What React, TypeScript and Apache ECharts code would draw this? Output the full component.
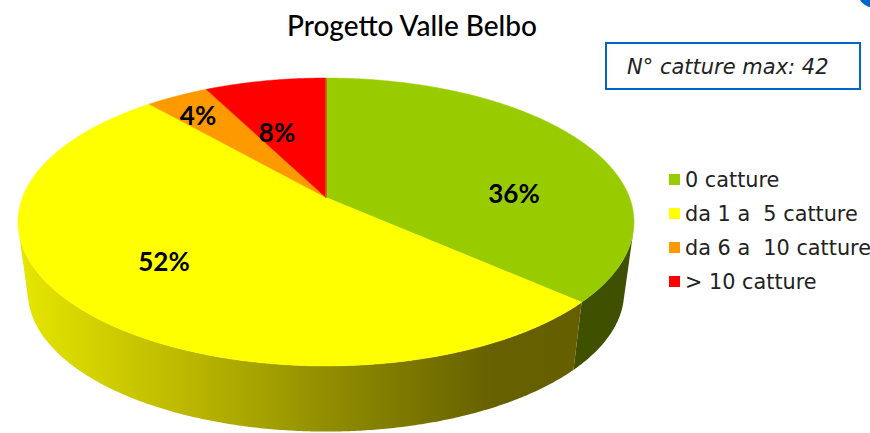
import React, { useEffect, useRef } from "react";
import * as echarts from "echarts";

const titleText = "Progetto Valle Belbo";
const noteText = "N° catture max: 42";
const categories = ["0 catture", "da 1 a  5 catture", "da 6 a  10 catture", "> 10 catture"];
const shares = [36, 52, 4, 8];
const colors = ["#99CC00", "#FFFF00", "#FF9900", "#FF0000"];
const labelAnchors = [[514, 193], [164, 261], [198, 115], [277, 132]];

// perspective projection of the pie's disc
const CX = 326, CY = 197.5, RX = 303.5, RY = 139.8, K = 0.17, WARP = (2.1 * Math.PI) / 180;
const BASE_SCALE = 0.968, BASE_DROP = 71;
const total = shares.reduce((a, b) => a + b, 0);
const starts = shares.map((_, i) => shares.slice(0, i).reduce((a, b) => a + b, 0));

function rim(angle: number): number[] {
  const theta = angle - WARP * Math.sin(2 * angle);
  const w = 1 + K * Math.cos(theta);
  return [CX + (RX * Math.sin(theta)) / w, CY - (RY * Math.cos(theta)) / w];
}
function base(p: number[]): number[] {
  return [CX + (p[0] - CX) * BASE_SCALE, CY + (p[1] - CY) * BASE_SCALE + BASE_DROP];
}
function angles(index: number, value: number, stepDeg: number): number[] {
  const a0 = (starts[index] / total) * Math.PI * 2;
  const a1 = a0 + (value / total) * Math.PI * 2;
  const steps = Math.max(2, Math.ceil((a1 - a0) / ((stepDeg * Math.PI) / 180)));
  const list: number[] = [];
  for (let s = 0; s <= steps; s++) list.push(a0 + ((a1 - a0) * s) / steps);
  return list;
}
// a rim point belongs to the visible wall when its drop to the base points away from the disc
function isFront(angle: number): boolean {
  const d = 0.002;
  const before = rim(angle - d);
  const after = rim(angle + d);
  const p = rim(angle);
  const q = base(p);
  return (after[0] - before[0]) * (q[1] - p[1]) - (after[1] - before[1]) * (q[0] - p[0]) < 0;
}

export default function App() {
  const ref = useRef<HTMLDivElement>(null);
  useEffect(() => {
    document.body.style.margin = "0";
    document.body.style.overflow = "hidden";
    const chart = echarts.init(ref.current!, undefined, { renderer: "svg" });
    const yellowWall = new echarts.graphic.LinearGradient(
      20, 0, 578, 0,
      [
        { offset: 0, color: "#E6E600" },
        { offset: 0.32, color: "#B8B400" },
        { offset: 0.55, color: "#908E00" },
        { offset: 0.85, color: "#666000" },
        { offset: 1, color: "#665F00" },
      ],
      true
    );
    const wallFills: any[] = ["#3F5000", yellowWall, "#B06800", "#B00000"];

    const wallSeries = {
      type: "custom",
      coordinateSystem: "none",
      silent: true,
      z: 1,
      data: shares.map((v) => [v]),
      renderItem: (params: any, api: any) => {
        const i = params.dataIndex;
        const top = angles(i, api.value(0), 0.5).filter(isFront).map(rim);
        if (top.length < 2) return null;
        return {
          type: "polygon",
          shape: { points: [...top, ...top.map(base).reverse()] },
          style: { fill: wallFills[i] },
        };
      },
    };

    const faceSeries = categories.map((name, idx) => ({
      name,
      type: "custom",
      coordinateSystem: "none",
      silent: true,
      z: 2,
      itemStyle: { color: colors[idx] },
      data: [[shares[idx]]],
      renderItem: (_: any, api: any) => ({
        type: "polygon",
        shape: { points: [[CX, CY], ...angles(idx, api.value(0), 0.5).map(rim)] },
        style: { fill: colors[idx], stroke: colors[idx], lineWidth: 0.5 },
      }),
    }));

    const labelSeries = {
      type: "custom",
      coordinateSystem: "none",
      silent: true,
      z: 4,
      data: shares.map((v) => [v]),
      renderItem: (params: any, api: any) => ({
        type: "text",
        style: {
          text: `${api.value(0)}%`,
          x: labelAnchors[params.dataIndex][0],
          y: labelAnchors[params.dataIndex][1],
          align: "center",
          verticalAlign: "middle",
          fill: "#000000",
          fontFamily: "Lato",
          fontWeight: "bold",
          fontSize: 26,
        },
      }),
    };

    chart.setOption({
      animation: false,
      backgroundColor: "#FFFFFF",
      title: {
        text: titleText,
        left: 407,
        top: 6,
        textAlign: "center",
        textStyle: { fontFamily: "Lato", fontWeight: 500, fontSize: 28, color: "#000000" },
      },
      legend: {
        left: 664,
        top: 164,
        orient: "vertical",
        icon: "rect",
        itemWidth: 11,
        itemHeight: 11,
        itemGap: 13,
        data: categories,
        selectedMode: false,
        textStyle: {
          fontFamily: "DejaVu Sans",
          fontSize: 20.8,
          lineHeight: 21,
          color: "#222222",
        },
      },
      graphic: [
        {
          type: "rect",
          shape: { x: 606, y: 43, width: 254, height: 46 },
          style: { fill: "#FFFFFF", stroke: "#0066CC", lineWidth: 2 },
        },
        {
          type: "text",
          style: {
            text: noteText,
            x: 627,
            y: 67,
            verticalAlign: "middle",
            fill: "#222222",
            fontFamily: "DejaVu Sans",
            fontStyle: "italic",
            fontSize: 21,
          },
        },
        {
          type: "circle",
          shape: { cx: 875, cy: -10, r: 18 },
          style: { fill: "#0066CC" },
        },
        {
          type: "line",
          z: 3,
          shape: { x1: CX, y1: CY, x2: CX, y2: CY - 119 },
          style: { stroke: "#C06A10", lineWidth: 1.5 },
        },
      ],
      series: [wallSeries, ...faceSeries, labelSeries],
    });
    return () => chart.dispose();
  }, []);
  return <div ref={ref} style={{ position: "fixed", left: 0, top: 0, width: 870, height: 433 }} />;
}
